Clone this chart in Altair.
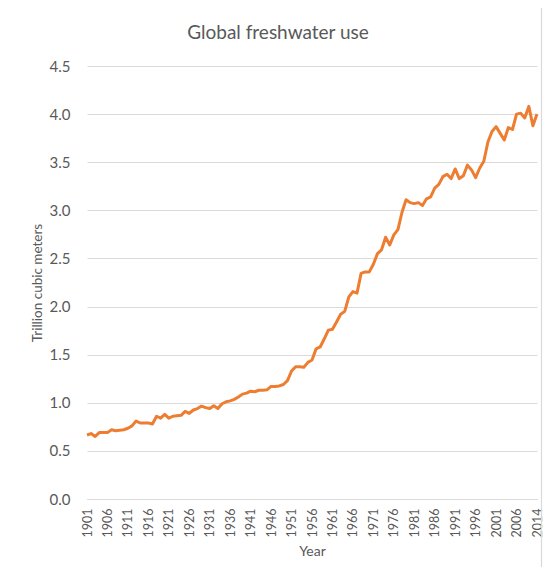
import altair as alt
import pandas as pd

years = [str(y) for y in range(1901, 2011)] + ["2014"]
values = [
    0.665, 0.68, 0.65, 0.69, 0.69, 0.69, 0.72, 0.71, 0.715, 0.72,
    0.735, 0.76, 0.81, 0.79, 0.79, 0.79, 0.78, 0.86, 0.84, 0.88,
    0.84, 0.86, 0.865, 0.87, 0.91, 0.89, 0.925, 0.94, 0.965, 0.95,
    0.94, 0.97, 0.94, 0.99, 1.01, 1.02, 1.035, 1.06, 1.09, 1.10,
    1.12, 1.115, 1.13, 1.13, 1.135, 1.17, 1.17, 1.175, 1.19, 1.23,
    1.33, 1.375, 1.375, 1.37, 1.42, 1.445, 1.56, 1.58, 1.665, 1.755,
    1.765, 1.84, 1.92, 1.95, 2.10, 2.155, 2.14, 2.345, 2.36, 2.36,
    2.44, 2.55, 2.59, 2.72, 2.64, 2.745, 2.80, 2.98, 3.11, 3.08,
    3.07, 3.08, 3.05, 3.12, 3.14, 3.23, 3.27, 3.35, 3.375, 3.33,
    3.43, 3.33, 3.36, 3.47, 3.42, 3.34, 3.44, 3.51, 3.71, 3.82,
    3.87, 3.80, 3.73, 3.86, 3.84, 4.00, 4.01, 3.96, 4.08, 3.88,
    4.00,
]
label_years = [str(y) for y in range(1901, 2007, 5)] + ["2014"]
y_ticks = [0, 0.5, 1.0, 1.5, 2.0, 2.5, 3.0, 3.5, 4.0, 4.5]
title_text = ["Global freshwater use"]

df = pd.DataFrame({"Year": years, "Value": values})

FONT = "Lato"
TXT = "#595959"
GRID = "#D9D9D9"

line = alt.Chart(df).mark_line(color="#ED7D31", strokeWidth=3, strokeJoin="round").encode(
    x=alt.X("Year:O", sort=years,
            scale=alt.Scale(type="point", padding=0),
            axis=alt.Axis(values=label_years, labelAngle=270, labelAlign="right",
                          labelBaseline="middle", labelPadding=9, ticks=False,
                          domainColor=GRID, domainWidth=1, grid=False,
                          labelFont=FONT, labelFontSize=12.5, labelColor=TXT,
                          title="Year", titleFont=FONT, titleFontSize=14,
                          titleFontWeight="normal", titleColor=TXT,
                          titleY=52, titleBaseline="middle")),
    y=alt.Y("Value:Q",
            scale=alt.Scale(domain=[0, 4.5], nice=False, zero=True),
            axis=alt.Axis(values=y_ticks, format=".1f", ticks=False, domain=False,
                          grid=True, gridColor=GRID, gridWidth=1,
                          labelFont=FONT, labelFontSize=15, labelColor=TXT,
                          labelPadding=17,
                          title="Trillion cubic meters", titleFont=FONT,
                          titleFontSize=13.5, titleFontWeight="normal",
                          titleColor=TXT, titleX=-50, titleY=216.5,
                          titleAngle=270, titleAlign="center",
                          titleBaseline="middle")),
)

frame = alt.Chart(pd.DataFrame({"f": [0]})).mark_rect(
    filled=False, stroke=GRID, strokeWidth=1.2, clip=False
).encode(
    x=alt.value(-80), x2=alt.value(454.5), y=alt.value(-59), y2=alt.value(600)
)

title = alt.Chart(pd.DataFrame({"t": title_text})).mark_text(
    font=FONT, fontSize=19, color=TXT, align="center", baseline="middle"
).encode(
    text="t:N", x=alt.value(191), y=alt.value(-33)
)

chart = alt.layer(frame, line, title).properties(
    width=450, height=433,
    autosize=alt.AutoSizeParams(type="none"),
    padding={"left": 79, "top": 58, "right": 6, "bottom": 68},
).configure_view(stroke=None)

chart.save("out.html", embed_options={"renderer": "svg", "actions": False})
